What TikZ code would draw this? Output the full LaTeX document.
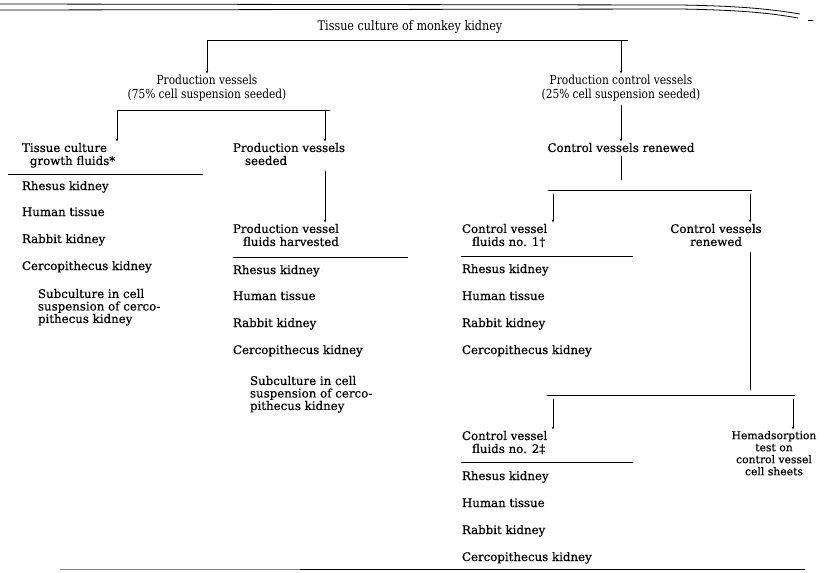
\documentclass[tikz,border=0pt]{standalone}
\usepackage{fontspec}
\setmainfont{DejaVu Serif}
\newfontfamily\hdrfont[FakeStretch=0.85]{DejaVu Serif}
\newfontfamily\lstfont[FakeBold=0.5]{DejaVu Serif}
\usetikzlibrary{arrows.meta}
\tikzset{
  txt/.style={inner sep=0pt, outer sep=0pt, font=\lstfont\fontsize{11.8}{13}\selectfont},
  top/.style={inner sep=0pt, outer sep=0pt, align=center, anchor=north, font=\hdrfont\fontsize{12.5}{14}\selectfont},
  hdr/.style={txt, align=center, anchor=north},
  blk/.style={txt, align=left, anchor=north west},
  item/.style={txt, anchor=base west},
  sub/.style={txt, align=left, anchor=north west, font=\lstfont\fontsize{11.8}{12.5}\selectfont},
  bar/.style={line width=0.6pt},
  rulel/.style={line width=0.8pt},
  arr/.style={line width=0.5pt, -{Stealth[length=3pt,width=2.4pt]}, shorten >=1.5pt},
  vline/.style={line width=0.5pt}
}
\begin{document}
\begin{tikzpicture}[x=1pt,y=-1pt]
\useasboundingbox (0,0) rectangle (820,573);
% top double rule
\draw[line width=0.8pt] (0,4) -- (680,5) .. controls (740,6) and (770,9) .. (800,14);
\draw[line width=0.8pt] (0,10) -- (680,9) .. controls (740,10) and (770,13) .. (798,18);
\draw[line width=0.6pt] (808,20) -- (813,20);
% title
\node[inner sep=0pt, font=\hdrfont\fontsize{13.2}{15}\selectfont, anchor=base] (title) at (410,30) {Tissue culture of monkey kidney};
\coordinate (tb1) at (207,40);
\coordinate (tb2) at (628,40);
\draw[bar] (tb1) -- (tb2);
\node[top] (pv) at (207,75) {Production vessels\\(75\% cell suspension seeded)};
\node[top] (pcv) at (621,75) {Production control vessels\\(25\% cell suspension seeded)};
\draw[arr] (tb1) -- (pv.north);
\draw[arr] (pcv.north |- tb1) -- (pcv.north);
% left branch bar
\coordinate (lb1) at (117,110);
\coordinate (lb2) at (330,110);
\coordinate (lb2a) at (325,110);
\draw[bar] (lb1) -- (lb2);
\node[blk] (tcg) at (22,143) {Tissue culture\\\hspace*{8pt}growth fluids*};
\node[blk] (pvs) at (233,143) {Production vessels\\\hspace*{12pt}seeded};
\draw[arr] (lb1) -- (lb1 |- tcg.north);
\draw[arr] (lb2a) -- (lb2a |- pvs.north);
% left list
\draw[rulel] (8,174) -- (203,174);
\node[item] (l1) at (22,190) {Rhesus kidney};
\node[item] (l2) at (22,216) {Human tissue};
\node[item] (l3) at (22,243) {Rabbit kidney};
\node[item] (l4) at (22,270) {Cercopithecus kidney};
\node[sub] (l5) at (38,289) {Subculture in cell\\suspension of cerco-\\pithecus kidney};
% middle column
\node[blk] (pvh) at (233,224) {Production vessel\\\hspace*{10pt}fluids harvested};
\draw[arr, shorten <=6pt] (pvs.south -| lb2a) -- (pvh.north -| lb2a);
\draw[rulel] (233,257) -- (408,257);
\node[item] (m1) at (233,274) {Rhesus kidney\,\raisebox{2pt}{\tiny$\cdot$}};
\node[item] (m2) at (233,300) {Human tissue};
\node[item] (m3) at (233,327) {Rabbit kidney};
\node[item] (m4) at (233,354) {Cercopithecus kidney};
\node[sub] (m5) at (250,376) {Subculture in cell\\suspension of cerco-\\pithecus kidney};
% right column
\node[hdr] (cvr) at (621,143) {Control vessels renewed};
\draw[arr, shorten <=4pt] (pcv.south) -- (cvr.north);
\coordinate (rb1) at (548,190);
\coordinate (rb2) at (752,190);
\coordinate (rb1a) at (553,190);
\coordinate (rb2a) at (750,190);
\draw[vline, shorten <=4pt] (cvr.south) -- (cvr.south |- 0,180);
\draw[bar] (rb1) -- (rb2);
\node[blk] (cv1) at (462,224) {Control vessel\\\hspace*{10pt}fluids no. 1†};
\node[hdr] (cvr2) at (716,224) {Control vessels\\renewed};
\draw[arr, shorten <=4pt] (rb1a) -- (rb1a |- cv1.north);
\draw[arr, shorten <=4pt] (rb2a) -- (rb2a |- cvr2.north);
\draw[rulel] (461,256) -- (633,256);
\node[item] (r1) at (462,273) {Rhesus kidney};
\node[item] (r2) at (462,300) {Human tissue};
\node[item] (r3) at (462,327) {Rabbit kidney};
\node[item] (r4) at (462,354) {Cercopithecus kidney};
\coordinate (rb3) at (547,395);
\coordinate (rb4) at (795,395);
\coordinate (rb3a) at (553,395);
\coordinate (rb4a) at (793,395);
\draw[vline, shorten <=6pt] (cvr2.south -| rb2a) -- (rb2a |- 0,390);
\draw[bar] (rb3) -- (rb4);
\node[blk] (cv2) at (462,431) {Control vessel\\\hspace*{10pt}fluids no. 2‡};
\node[hdr, font=\lstfont\fontsize{10.8}{12}\selectfont] (hem) at (774,431) {Hemadsorption\\test on\\control vessel\\cell sheets};
\draw[arr, shorten <=4pt] (rb3a) -- (rb3a |- cv2.north);
\draw[arr, shorten <=4pt] (rb4a) -- (rb4a |- hem.north);
\draw[rulel] (461,462) -- (633,462);
\node[item] (s1) at (462,480) {Rhesus kidney};
\node[item] (s2) at (462,507) {Human tissue};
\node[item] (s3) at (462,534) {Rabbit kidney};
\node[item] (s4) at (462,561) {Cercopithecus kidney};
% bottom rule
\draw[line width=0.3pt, gray] (60,569) -- (300,569);
\draw[line width=0.8pt] (300,569) -- (805,569);
\end{tikzpicture}
\end{document}
